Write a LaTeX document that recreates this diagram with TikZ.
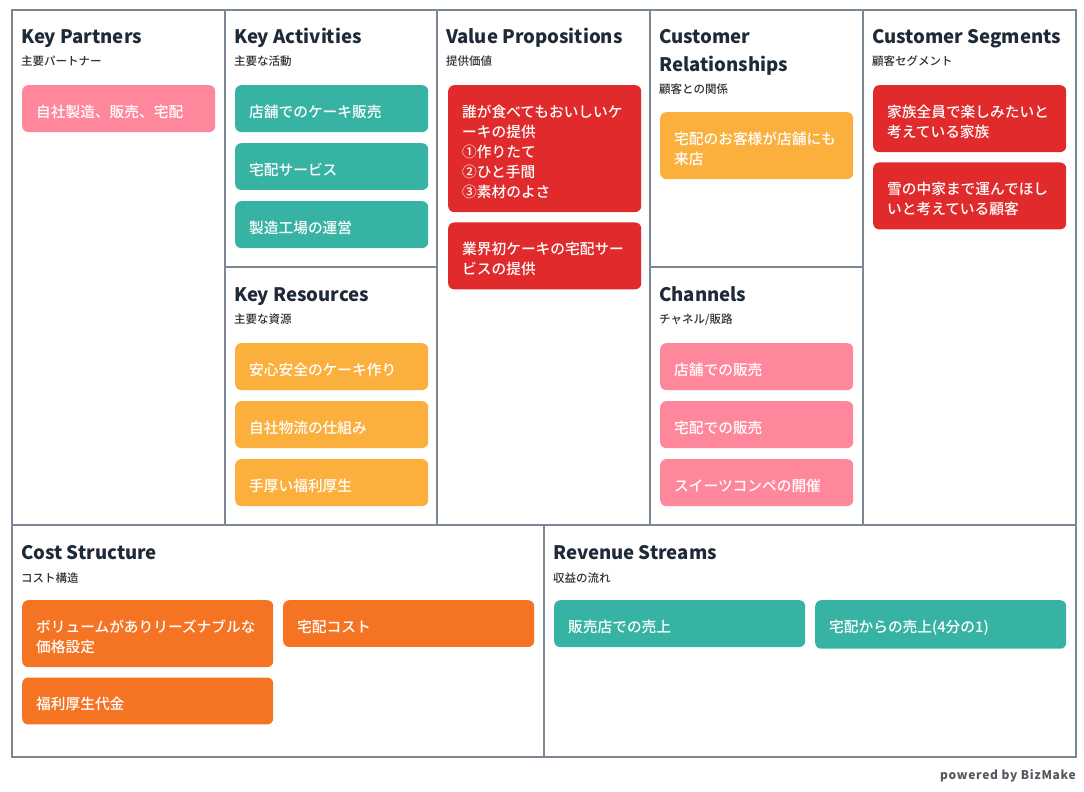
\documentclass[tikz,border=0pt]{standalone}
\usepackage{fontspec}
\setmainfont{Noto Sans CJK JP}
\newfontfamily\medfont{Noto Sans CJK JP Medium}
\usepackage{tikz}
\usetikzlibrary{positioning}
\definecolor{linec}{HTML}{7C8794}
\definecolor{headc}{HTML}{1E2A38}
\definecolor{subc}{HTML}{2F3338}
\definecolor{pinkc}{HTML}{FF879C}
\definecolor{tealc}{HTML}{37B3A4}
\definecolor{yelc}{HTML}{FBB03D}
\definecolor{redc}{HTML}{E02A2C}
\definecolor{orgc}{HTML}{F47424}
\definecolor{markc}{HTML}{555A60}
\tikzset{
  cell/.style={draw=linec,line width=1.2pt},
  hd/.style={anchor=base west,inner sep=0pt,text=headc,font=\fontsize{18.6}{24}\selectfont\bfseries},
  sb/.style={anchor=base west,inner sep=0pt,text=subc,font=\fontsize{11.5}{14}\selectfont\medfont},
  card/.style={anchor=north west,rounded corners=6pt,align=left,text=white,inner xsep=14pt,inner ysep=13.3pt,
    text width=165pt,font=\fontsize{14.7}{20}\selectfont\medfont,execute at begin node=\rule{0pt}{19pt}},
  wide/.style={text width=223pt}
}

\begin{document}
\begin{tikzpicture}[x=1pt,y=-1pt]
\useasboundingbox[fill=white] (0,0) rectangle (1084,792);
% canvas grid
\draw[cell] (12,10) rectangle (1076,757);
\draw[cell] (12,525) -- (1076,525);
\foreach \x in {225,437,650,863} \draw[cell] (\x,10) -- (\x,525);
\draw[cell] (225,267) -- (437,267);
\draw[cell] (650,267) -- (863,267);
\draw[cell] (544,525) -- (544,757);

% headings
\node[hd] (kph) at (21,44) {Key Partners};
\node[sb] (kps) at (21,66) {主要パートナー};
\node[hd] (kah) at (234,44) {Key Activities};
\node[sb] (kas) at (234,66) {主要な活動};
\node[hd] (vph) at (446,44) {Value Propositions};
\node[sb] (vps) at (446,66) {提供価値};
\node[hd] (crh) at (659,44) {Customer};
\node[hd] (crh2) at (659,71) {Relationships};
\node[sb] (crs) at (659,93) {顧客との関係};
\node[hd] (csh) at (872,44) {Customer Segments};
\node[sb] (css) at (872,66) {顧客セグメント};
\node[hd] (krh) at (234,301) {Key Resources};
\node[sb] (krs) at (234,323) {主要な資源};
\node[hd] (chh) at (659,301) {Channels};
\node[sb] (chs) at (659,323) {チャネル/販路};
\node[hd] (coh) at (21,559) {Cost Structure};
\node[sb] (cos) at (21,582) {コスト構造};
\node[hd] (rvh) at (553,559) {Revenue Streams};
\node[sb] (rvs) at (553,582) {収益の流れ};

% cards
\node[card,fill=pinkc] (kp1) at (22,85) {自社製造、販売、宅配};
\foreach \t [count=\i from 0] in {店舗でのケーキ販売,宅配サービス,製造工場の運営}
  \node[card,fill=tealc] (ka\i) at (235,85+58*\i) {\t};
\foreach \t [count=\i from 0] in {安心安全のケーキ作り,自社物流の仕組み,手厚い福利厚生}
  \node[card,fill=yelc] (kr\i) at (235,343+58*\i) {\t};
\foreach \t [count=\i from 0] in {店舗での販売,宅配での販売,スイーツコンペの開催}
  \node[card,fill=pinkc] (ch\i) at (660,343+58*\i) {\t};
\node[card,fill=redc] (vp1) at (448,85) {誰が食べてもおいしいケ\\ーキの提供\\①作りたて\\②ひと手間\\③素材のよさ};
\node[card,fill=redc,below=10pt of vp1.south west,anchor=north west] (vp2) {業界初ケーキの宅配サー\\ビスの提供};
\node[card,fill=yelc] (cr1) at (660,112) {宅配のお客様が店舗にも\\来店};
\node[card,fill=redc] (cs1) at (873,85) {家族全員で楽しみたいと\\考えている家族};
\node[card,fill=redc,below=10pt of cs1.south west,anchor=north west] (cs2) {雪の中家まで運んでほし\\いと考えている顧客};
\node[card,wide,fill=orgc] (co1) at (22,600) {ボリュームがありリーズナブルな\\価格設定};
\node[card,wide,fill=orgc] (co2) at (283,600) {宅配コスト};
\node[card,wide,fill=orgc,below=10pt of co1.south west,anchor=north west] (co3) {福利厚生代金};
\node[card,wide,fill=tealc] (rv1) at (554,600) {販売店での売上};
\node[card,wide,fill=tealc] (rv2) at (815,600) {宅配からの売上(4分の1)};

\node[anchor=base east,inner sep=0pt,text=markc,font=\fontsize{12}{14}\selectfont\bfseries\addfontfeature{LetterSpace=6}] (pw) at (1076,779) {powered by BizMake};
\end{tikzpicture}
\end{document}
